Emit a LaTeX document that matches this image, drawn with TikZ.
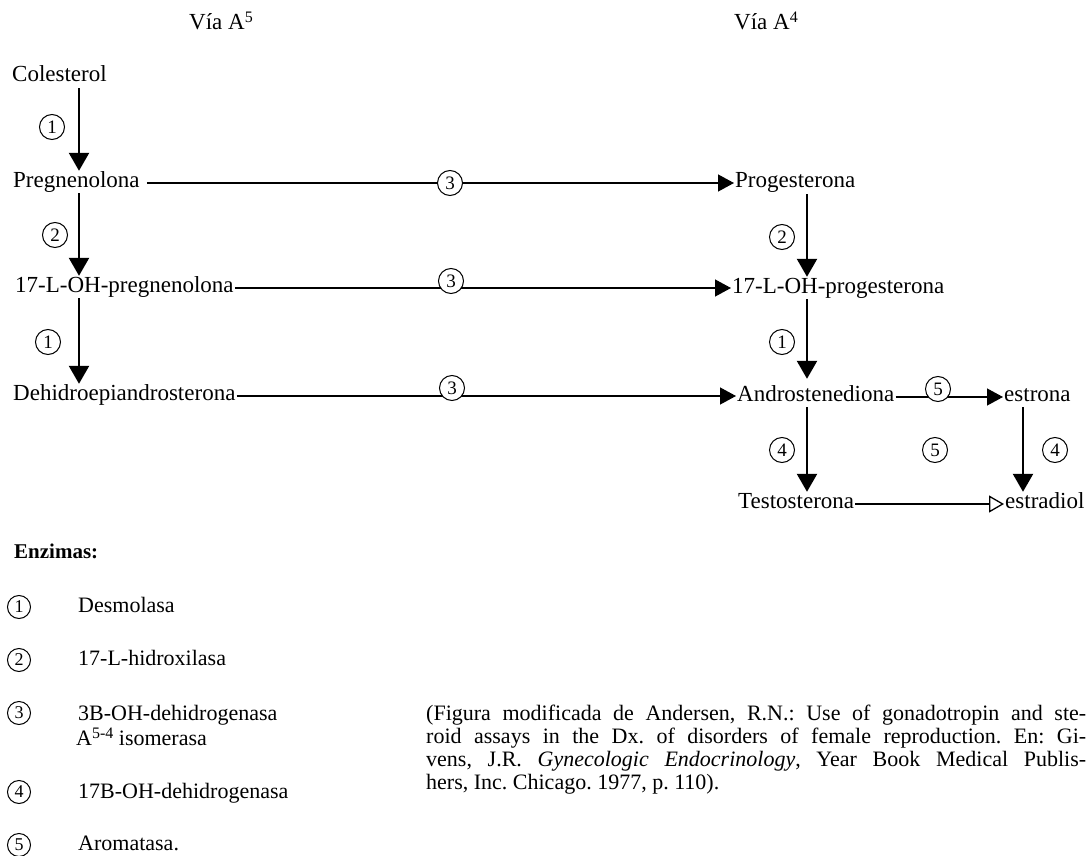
\documentclass[tikz,border=0pt]{standalone}
\usepackage{fontspec}
\setmainfont{Liberation Serif}
\usetikzlibrary{arrows.meta}
\newcommand{\supr}[1]{\raisebox{7pt}{\fontsize{16}{16}\selectfont #1}}
\begin{document}
\begin{tikzpicture}[x=1pt,y=-1pt,
  lbl/.style={anchor=base west, inner xsep=1pt, inner ysep=0pt, text height=12pt, text depth=4pt, font=\fontsize{23}{25}\selectfont},
  leg/.style={lbl, font=\fontsize{22}{24}\selectfont},
  circ/.style={draw, circle, line width=1pt, minimum size=25pt, inner sep=0pt, fill=white, font=\fontsize{19}{19}\selectfont},
  lcirc/.style={circ, minimum size=23pt, font=\fontsize{18}{18}\selectfont},
  varrow/.style={line width=2.4pt, -{Triangle[width=20pt,length=18pt]}, shorten <=2pt, shorten >=4pt},
  harrow/.style={line width=1.3pt, -{Triangle[width=17pt,length=16pt]}},
  oarrow/.style={line width=1.3pt, -{Triangle[open,width=17pt,length=15pt,line width=1.3pt]}}
]
\useasboundingbox (0,0) rectangle (1090,856);

% headings
\node[lbl] (via5) at (188,30) {Vía A\supr{5}};
\node[lbl] (via4) at (733,30) {Vía A\supr{4}};

% left column
\node[lbl] (col) at (11,82) {Colesterol};
\node[lbl] (preg) at (12,187) {Pregnenolona};
\node[lbl] (ohpreg) at (14,292) {17-L-OH-pregnenolona};
\node[lbl] (dhea) at (12,400) {Dehidroepiandrosterona};

% right column
\node[lbl] (prog) at (734,188) {Progesterona};
\node[lbl] (ohprog) at (731,293) {17-L-OH-progesterona};
\node[lbl] (andro) at (736,401) {Androstenediona};
\node[lbl] (estrona) at (1003,401) {estrona};
\node[lbl] (testo) at (737,508) {Testosterona};
\node[lbl] (estradiol) at (1004,508) {estradiol};

\coordinate (vL) at (79,0);
\coordinate (vR) at (807,0);
\coordinate (vE) at (1023,0);

% vertical arrows
\draw[varrow] (col.south -| vL) -- (preg.north -| vL);
\draw[varrow] (preg.south -| vL) -- (ohpreg.north -| vL);
\draw[varrow] (ohpreg.south -| vL) -- (dhea.north -| vL);
\draw[varrow] (prog.south -| vR) -- (ohprog.north -| vR);
\draw[varrow, shorten >=10pt] (ohprog.south -| vR) -- (andro.north -| vR);
\draw[varrow] (andro.south -| vR) -- (testo.north -| vR);
\draw[varrow] (estrona.south -| vE) -- (estradiol.north -| vE);

% horizontal arrows
\draw[harrow, shorten <=6pt] (preg.east) -- (prog.west |- preg.east);
\draw[harrow] (ohpreg.east) -- (ohprog.west |- ohpreg.east);
\draw[harrow] (dhea.east) -- (andro.west |- dhea.east);
\draw[harrow] (andro.east) -- (estrona.west);
\draw[oarrow] (testo.east) -- (estradiol.west);

% enzyme labels in diagram
\node[circ] (c1a) at (52,127) {1};
\node[circ] (c2a) at (55,235) {2};
\node[circ] (c1b) at (48,342) {1};
\node[circ] (c3a) at (450,183) {3};
\node[circ] (c3b) at (451,281) {3};
\node[circ] (c3c) at (452,388) {3};
\node[circ] (c2r) at (782,237) {2};
\node[circ] (c1r) at (782,342) {1};
\node[circ] (c4r) at (782,450) {4};
\node[circ] (c5m) at (935,450) {5};
\node[circ] (c4e) at (1055,450) {4};
\node[circ] (c5a) at (938,389) {5};

% legend
\node[leg, font=\fontsize{21}{24}\selectfont\bfseries] (enz) at (13,558) {Enzimas:};
\node[lcirc] (l1) at (19,607) {1};
\node[lcirc] (l2) at (19,660) {2};
\node[lcirc] (l3) at (19,713) {3};
\node[lcirc] (l4) at (19,792) {4};
\node[lcirc] (l5) at (19,845) {5};
\node[leg] (t1) at (77,612) {Desmolasa};
\node[leg] (t2) at (77,665) {17-L-hidroxilasa};
\node[leg] (t3a) at (77,720) {3B-OH-dehidrogenasa};
\node[leg] (t3b) at (75,745) {A\supr{5-4} isomerasa};
\node[leg] (t4) at (77,798) {17B-OH-dehidrogenasa};
\node[leg] (t5) at (77,850) {Aromatasa.};

% citation
\node[anchor=base west, inner sep=0pt] (cite) at (426,720)
 {\parbox[t]{660pt}{\fontsize{22}{23}\selectfont\frenchspacing
 (Figura modificada de Andersen, R.N.: Use of gonadotropin and ste-\linebreak
 roid assays in the Dx. of disorders of female reproduction. En: Gi-\linebreak
 vens, J.R. \textit{Gynecologic Endocrinology}, Year Book Medical Publis-\linebreak
 hers, Inc. Chicago. 1977, p. 110).}};
\end{tikzpicture}
\end{document}
